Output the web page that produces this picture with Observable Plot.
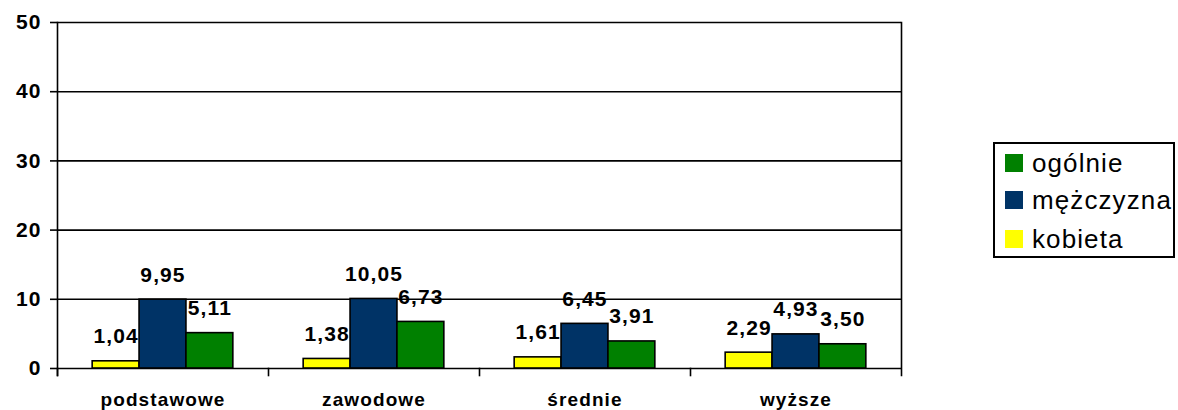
<!DOCTYPE html>
<html>
<head>
<meta charset="utf-8">
<script src="https://cdn.jsdelivr.net/npm/d3@7"></script>
<script src="https://cdn.jsdelivr.net/npm/@observablehq/plot@0.6"></script>
<style>
  html, body { margin: 0; padding: 0; background: #fff; }
  #wrap { position: relative; width: 1178px; height: 410px; font-family: "Liberation Sans", Arial, sans-serif; }
  #chart svg text { letter-spacing: 1.1px; font-family: "Liberation Sans", Arial, sans-serif; font-weight: bold; }
  #legend { position: absolute; left: 993px; top: 142px; width: 178px; height: 112px; border: 2px solid #000; background: #fff; }
  .row { position: absolute; left: 10px; height: 20px; display: flex; align-items: center; }
  .sw { width: 18px; height: 18px; margin-right: 9px; }
  .lb { font-size: 26px; letter-spacing: 1.1px; color: #000; white-space: nowrap; line-height: 20px; }
</style>
</head>
<body>
<div id="wrap">
  <div id="chart"></div>
  <div id="legend"></div>
</div>
<script>
const categories = ["podstawowe", "zawodowe", "średnie", "wyższe"];
const series = ["kobieta", "mężczyzna", "ogólnie"];
const kobieta = [1.04, 1.38, 1.61, 2.29];
const mezczyzna = [9.95, 10.05, 6.45, 4.93];
const ogolnie = [5.11, 6.73, 3.91, 3.50];
const yTicks = [0, 10, 20, 30, 40, 50];
const colors = ["#FFFF00", "#003366", "#008000"];
const legendOrder = ["ogólnie", "mężczyzna", "kobieta"];

const values = [kobieta, mezczyzna, ogolnie];
const data = [];
categories.forEach((c, i) => {
  series.forEach((s, j) => data.push({category: c, series: s, value: values[j][i]}));
});
const fmt = v => v.toFixed(2).replace(".", ",");

const H = 410, MT = 22, MB = 42;
const chart = Plot.plot({
  width: 1178,
  height: H,
  marginLeft: 55,
  marginRight: 276,
  marginTop: MT,
  marginBottom: MB,
  style: {fontFamily: "'Liberation Sans', Arial, sans-serif", fontSize: "19px", fontWeight: "bold", color: "#000", background: "transparent"},
  fx: {domain: categories, padding: 0, label: null, axis: null},
  x: {domain: series, paddingInner: 0, paddingOuter: 0.75, round: false, axis: null},
  y: {domain: [0, 50], axis: null},
  color: {domain: series, range: colors},
  marks: [
    Plot.ruleY(yTicks, {stroke: "#000", strokeWidth: 1.6}),
    Plot.frame({anchor: "left", facetAnchor: "left", stroke: "#000", strokeWidth: 1.6, insetBottom: -7}),
    Plot.frame({anchor: "left", stroke: "#000", strokeWidth: 1.6, insetTop: H - MT - MB, insetBottom: -7}),
    Plot.frame({anchor: "right", facetAnchor: "right", stroke: "#000", strokeWidth: 1.6, insetBottom: -7}),
    Plot.barY(data, {fx: "category", x: "series", y: "value", fill: "series", stroke: "#000", strokeWidth: 1.6}),
    Plot.text(data, {fx: "category", x: "series", y: "value", text: d => fmt(d.value), dy: -18, lineAnchor: "bottom", fontSize: 21, fontWeight: "bold", fill: "#000"}),
    Plot.axisY({ticks: yTicks, tickSize: 7, tickFormat: () => "", label: null, stroke: "#000", strokeWidth: 1.6}),
    Plot.text(yTicks, {y: d => d, text: d => String(d), frameAnchor: "left", textAnchor: "end", dx: -16, facetAnchor: "left", fontSize: 21, fontWeight: "bold", fill: "#000", style: "letter-spacing:2.5px"}),
    Plot.axisFx({anchor: "bottom", tickSize: 0, tickPadding: 24, label: null, fontSize: 19, fontWeight: "bold"})
  ]
});
document.getElementById("chart").appendChild(chart);

const legend = document.getElementById("legend");
const tops = [9, 46, 85];
legendOrder.forEach((s, k) => {
  const row = document.createElement("div");
  row.className = "row";
  row.style.top = tops[k] + "px";
  const sw = document.createElement("div");
  sw.className = "sw";
  sw.style.background = colors[series.indexOf(s)];
  const lb = document.createElement("span");
  lb.className = "lb";
  lb.textContent = s;
  row.appendChild(sw);
  row.appendChild(lb);
  legend.appendChild(row);
});
</script>
</body>
</html>
